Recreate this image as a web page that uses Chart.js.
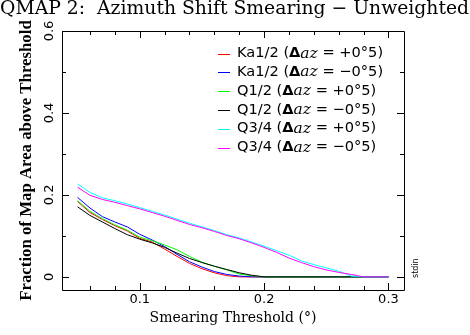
<!DOCTYPE html>
<html>
<head>
<meta charset="utf-8">
<script src="https://cdn.jsdelivr.net/npm/chart.js@4.4.1/dist/chart.umd.min.js"></script>
<style>
  html, body { margin: 0; padding: 0; background: #fff; }
</style>
</head>
<body>
<canvas id="chart" width="470" height="335"></canvas>
<script>
// smearing threshold (deg)
const smearing = [0.05, 0.06, 0.07, 0.08, 0.09, 0.10, 0.11, 0.12, 0.13, 0.14, 0.15, 0.16, 0.17,
                  0.18, 0.19, 0.20, 0.21, 0.22, 0.23, 0.24, 0.25, 0.26, 0.27, 0.28, 0.29, 0.30];

// fraction of map area above threshold
const ka12Plus  = [0.184, 0.157, 0.140, 0.125, 0.112, 0.094, 0.085, 0.068, 0.050, 0.033, 0.020, 0.010, 0.003,
                   0, 0, 0, 0, 0, 0, 0, 0, 0, 0, 0, 0, 0];
const ka12Minus = [0.194, 0.168, 0.147, 0.134, 0.122, 0.104, 0.090, 0.074, 0.055, 0.037, 0.024, 0.013, 0.006,
                   0.002, 0, 0, 0, 0, 0, 0, 0, 0, 0, 0, 0, 0];
const q12Plus   = [0.186, 0.160, 0.142, 0.127, 0.114, 0.097, 0.088, 0.078, 0.066, 0.050, 0.036, 0.026, 0.017,
                   0.007, 0.003, 0, 0, 0, 0, 0, 0, 0, 0, 0, 0, 0];
const q12Minus  = [0.171, 0.150, 0.134, 0.118, 0.103, 0.092, 0.083, 0.072, 0.058, 0.045, 0.035, 0.026, 0.018,
                   0.010, 0.004, 0, 0, 0, 0, 0, 0, 0, 0, 0, 0, 0];
const q34Plus   = [0.227, 0.206, 0.193, 0.186, 0.178, 0.169, 0.160, 0.151, 0.141, 0.131, 0.122, 0.113, 0.103,
                   0.095, 0.085, 0.075, 0.064, 0.053, 0.039, 0.030, 0.022, 0.014, 0.002, 0, 0, 0];
const q34Minus  = [0.219, 0.199, 0.189, 0.182, 0.174, 0.166, 0.157, 0.148, 0.138, 0.128, 0.120, 0.111, 0.101,
                   0.093, 0.083, 0.072, 0.060, 0.046, 0.035, 0.025, 0.017, 0.011, 0.006, 0, 0, 0];

const bandNames = ['Ka1/2', 'Ka1/2', 'Q1/2', 'Q1/2', 'Q3/4', 'Q3/4'];
const azShifts  = ['+0°5', '\u22120°5', '+0°5', '\u22120°5', '+0°5', '\u22120°5'];
const lineColors = ['#ff0000', '#0000ff', '#00ff00', '#000000', '#00ffff', '#ff00ff'];
const allSeries = [ka12Plus, ka12Minus, q12Plus, q12Minus, q34Plus, q34Minus];

// tick labels / tick marks
const xTicks = [0.1, 0.2, 0.3];
const xMinorTicks = [0.06, 0.08, 0.12, 0.14, 0.16, 0.18, 0.22, 0.24, 0.26, 0.28];
const yTicks = [0, 0.2, 0.4, 0.6];
const yMinorTicks = [0.1, 0.3, 0.5];

const datasets = allSeries.map((vals, i) => ({
  label: bandNames[i] + ' (\u0394az = ' + azShifts[i] + ')',
  data: smearing.map((x, j) => ({ x: x, y: vals[j] })),
  borderColor: lineColors[i],
  borderWidth: 1,
  pointRadius: 0,
  tension: 0,
  fill: false,
  order: allSeries.length - i  // later series on top
}));

// frame, inward ticks, legend and the little "stdin" tag
const framePlugin = {
  id: 'frame',
  afterDraw(chart) {
    const ctx = chart.ctx;
    const a = chart.chartArea;
    const xs = chart.scales.x, ys = chart.scales.y;
    ctx.save();
    ctx.strokeStyle = '#000';
    ctx.lineWidth = 1;
    ctx.beginPath();
    ctx.rect(Math.round(a.left) + 0.5, Math.round(a.top) + 0.5,
             Math.round(a.right - a.left), Math.round(a.bottom - a.top));
    const tickX = (v, len) => {
      const p = Math.round(xs.getPixelForValue(v)) + 0.5;
      ctx.moveTo(p, a.bottom); ctx.lineTo(p, a.bottom - len);
      ctx.moveTo(p, a.top); ctx.lineTo(p, a.top + len);
    };
    const tickY = (v, len) => {
      const p = Math.round(ys.getPixelForValue(v)) + 0.5;
      ctx.moveTo(a.left, p); ctx.lineTo(a.left + len, p);
      ctx.moveTo(a.right, p); ctx.lineTo(a.right - len, p);
    };
    xTicks.forEach(v => tickX(v, 7));
    xMinorTicks.forEach(v => tickX(v, 4));
    yTicks.forEach(v => tickY(v, 7));
    yMinorTicks.forEach(v => tickY(v, 4));
    ctx.stroke();

    // legend
    ctx.textBaseline = 'middle';
    ctx.textAlign = 'left';
    const plain = '14.6px "DejaVu Sans"';
    chart.data.datasets.forEach((ds, i) => {
      const y = 53.5 + i * 18.8;
      ctx.strokeStyle = ds.borderColor;
      ctx.beginPath();
      ctx.moveTo(218, Math.round(y) + 0.5);
      ctx.lineTo(230, Math.round(y) + 0.5);
      ctx.stroke();
      const parts = ds.label.split('\u0394az');
      let x = 237;
      ctx.fillStyle = '#000';
      ctx.font = plain;
      ctx.fillText(parts[0], x, y);
      x += ctx.measureText(parts[0]).width;
      ctx.font = 'bold 14.6px "DejaVu Sans"';
      ctx.fillText('\u0394', x, y);
      x += ctx.measureText('\u0394').width;
      ctx.font = 'italic 15.5px "DejaVu Serif"';
      ctx.fillText('az', x, y);
      x += ctx.measureText('az').width;
      ctx.font = plain;
      ctx.fillText(parts[1], x, y);
    });

    ctx.translate(416, 278);
    ctx.rotate(-Math.PI / 2);
    ctx.font = '8px "DejaVu Sans"';
    ctx.fillText('stdin', 0, 0);
    ctx.restore();
  }
};

new Chart(document.getElementById('chart'), {
  type: 'line',
  data: { datasets: datasets },
  options: {
    responsive: false,
    animation: false,
    devicePixelRatio: 1,
    layout: { padding: 0 },
    plugins: {
      legend: { display: false },
      tooltip: { enabled: false },
      title: {
        display: true,
        text: 'QMAP 2:  Azimuth Shift Smearing \u2212 Unweighted',
        align: 'start',
        color: '#000',
        font: { family: '"DejaVu Serif"', size: 18.8, weight: 'normal', lineHeight: 1 },
        padding: { top: -0.5, bottom: 12.7 }
      }
    },
    scales: {
      x: {
        type: 'linear',
        min: 0.0375,
        max: 0.3125,
        afterBuildTicks: s => { s.ticks = xTicks.map(v => ({ value: v })); },
        afterFit: s => { s.height = 45; },
        grid: { display: false, drawTicks: false },
        border: { display: false },
        ticks: {
          color: '#000',
          padding: 2,
          maxRotation: 0,
          font: { family: '"DejaVu Sans"', size: 13 },
          callback: v => v.toFixed(1)
        },
        title: {
          display: true,
          text: 'Smearing Threshold (°)',
          color: '#000',
          font: { family: '"DejaVu Serif"', size: 14, lineHeight: 1.2 },
          padding: { top: 0, bottom: 8 }
        }
      },
      y: {
        type: 'linear',
        min: -0.032,
        max: 0.6,
        afterBuildTicks: s => { s.ticks = yTicks.map(v => ({ value: v })); },
        afterFit: s => { s.width = 62; },
        grid: { display: false, drawTicks: false },
        border: { display: false },
        ticks: {
          color: '#000',
          padding: 2,
          minRotation: 90,
          maxRotation: 90,
          crossAlign: 'center',
          font: { family: '"DejaVu Sans"', size: 13 },
          callback: v => String(+v.toFixed(1))
        },
        title: {
          display: true,
          text: 'Fraction of Map Area above Threshold',
          color: '#000',
          font: { family: '"Liberation Serif"', size: 16.8, weight: 'bold', lineHeight: 1.2 },
          padding: { top: 17, bottom: 0 }
        }
      },
      right: {
        type: 'linear',
        position: 'right',
        min: 0,
        max: 1,
        afterFit: s => { s.width = 66; },
        grid: { display: false, drawTicks: false },
        border: { display: false },
        ticks: { display: false }
      }
    }
  },
  plugins: [framePlugin]
});
</script>
</body>
</html>
